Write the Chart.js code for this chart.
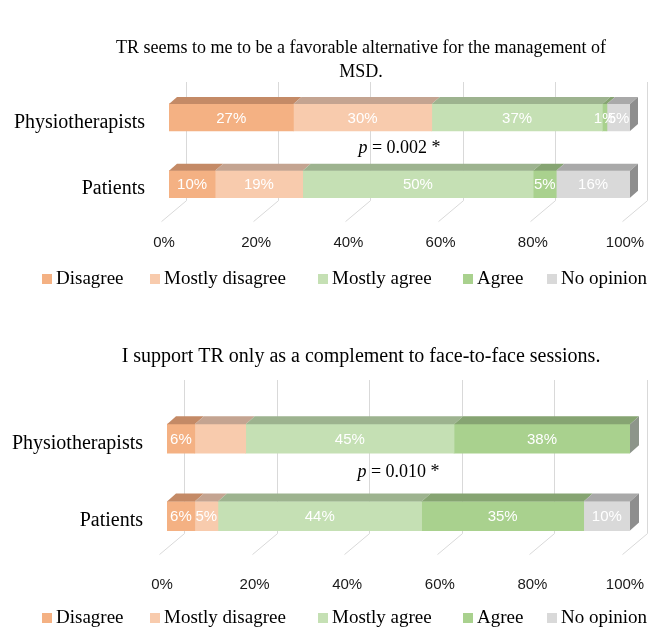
<!DOCTYPE html>
<html>
<head>
<meta charset="utf-8">
<script src="https://cdn.jsdelivr.net/npm/chart.js@4.4.0/dist/chart.umd.min.js"></script>
<style>
  html, body { margin: 0; padding: 0; background: #fff; overflow: hidden; }
  .box { position: absolute; left: 0; width: 652px; }
  #box1 { top: 0; height: 300px; }
  #box2 { top: 310px; height: 322px; }
</style>
</head>
<body>
<div class="box" id="box1"><canvas id="chart1"></canvas></div>
<div class="box" id="box2"><canvas id="chart2"></canvas></div>
<script>
const groups = ['Physiotherapists', 'Patients'];
const answers = ['Disagree', 'Mostly disagree', 'Mostly agree', 'Agree', 'No opinion'];
const answerColors = ['#F4B183', '#F8CBAD', '#C5E0B4', '#A9D18E', '#D9D9D9'];
const topColors = ['#C48a66', '#C4A491', '#9DB38F', '#86A472', '#A9A9A9'];
const sideColors = ['#B07756', '#AE9686', '#8E9C86', '#8D958A', '#8E8E8E'];
const xTicks = [0, 20, 40, 60, 80, 100];

// chart 1
const title1 = ['TR seems to me to be a favorable alternative for the management of', 'MSD.'];
const disagree1 = [27, 10];
const mostlyDisagree1 = [30, 19];
const mostlyAgree1 = [37, 50];
const agree1 = [1, 5];
const noOpinion1 = [5, 16];
const pValue1 = '0.002';

// chart 2
const title2 = ['I support TR only as a complement to face-to-face sessions.'];
const disagree2 = [6, 6];
const mostlyDisagree2 = [11, 5];
const mostlyAgree2 = [45, 44];
const agree2 = [38, 35];
const noOpinion2 = [0, 10];
const pValue2 = '0.010';
const hiddenLabels2 = ['Mostly disagree|Physiotherapists'];

const serif = "'Liberation Serif', serif";
const sans = "'Liberation Sans', sans-serif";

const bar3d = {
  id: 'bar3d',
  beforeDatasetsDraw(chart, args, o) {
    const { ctx, chartArea, scales: { x } } = chart;
    const meta = chart.getDatasetMeta(0);
    const lastBar = meta.data[meta.data.length - 1];
    const floorTop = lastBar.y + lastBar.height / 2 + 3;
    ctx.save();
    ctx.strokeStyle = '#D9D9D9';
    ctx.lineWidth = 1;
    xTicks.forEach(v => {
      const px = Math.round(x.getPixelForValue(v)) + 0.5;
      ctx.beginPath();
      ctx.moveTo(px + 17, chartArea.top + o.gridTop);
      ctx.lineTo(px + 17, floorTop);
      ctx.lineTo(px - 8, floorTop + 21);
      ctx.stroke();
    });
    ctx.restore();
  },
  afterDatasetsDraw(chart, args, o) {
    const { ctx, scales: { x, y } } = chart;
    const dx = o.dx, dy = o.dy;
    ctx.save();
    chart.data.labels.forEach((lab, j) => {
      let lastEl = null, lastDs = null;
      chart.data.datasets.forEach((ds, i) => {
        const el = chart.getDatasetMeta(i).data[j];
        if (!ds.data[j]) return;
        const top = el.y - el.height / 2;
        ctx.fillStyle = ds.topColor;
        ctx.beginPath();
        ctx.moveTo(el.base, top);
        ctx.lineTo(el.base + dx, top - dy);
        ctx.lineTo(el.x + dx, top - dy);
        ctx.lineTo(el.x, top);
        ctx.closePath();
        ctx.fill();
        lastEl = el; lastDs = ds;
      });
      if (lastEl) {
        const top = lastEl.y - lastEl.height / 2, bot = lastEl.y + lastEl.height / 2;
        ctx.fillStyle = lastDs.sideColor;
        ctx.beginPath();
        ctx.moveTo(lastEl.x, top);
        ctx.lineTo(lastEl.x + dx, top - dy);
        ctx.lineTo(lastEl.x + dx, bot - dy);
        ctx.lineTo(lastEl.x, bot);
        ctx.closePath();
        ctx.fill();
      }
    });

    // value labels
    ctx.fillStyle = '#fff';
    ctx.font = '15px ' + sans;
    ctx.textAlign = 'center';
    ctx.textBaseline = 'middle';
    chart.data.datasets.forEach((ds, i) => {
      chart.getDatasetMeta(i).data.forEach((el, j) => {
        const v = ds.data[j];
        if (!v) return;
        if ((o.hidden || []).includes(ds.label + '|' + chart.data.labels[j])) return;
        ctx.fillText(v + '%', (el.x + el.base) / 2, el.y + 1);
      });
    });

    // p value between the two bars
    const yMid = (y.getPixelForValue(0) + y.getPixelForValue(1)) / 2 + o.pOffset;
    const pText = ' = ' + o.p + ' *';
    ctx.fillStyle = '#000';
    ctx.font = 'italic 18px ' + serif;
    const w1 = ctx.measureText('p').width;
    ctx.font = '18px ' + serif;
    const w2 = ctx.measureText(pText).width;
    const x0 = x.getPixelForValue(50) - (w1 + w2) / 2;
    ctx.textAlign = 'left';
    ctx.font = 'italic 18px ' + serif;
    ctx.fillText('p', x0, yMid);
    ctx.font = '18px ' + serif;
    ctx.fillText(pText, x0 + w1, yMid);

    // title
    ctx.textAlign = 'center';
    ctx.font = o.titleSize + 'px ' + serif;
    o.title.forEach((line, k) => ctx.fillText(line, o.titleX, o.titleY + k * 24));

    // legend
    ctx.textAlign = 'left';
    ctx.font = '19px ' + serif;
    chart.data.datasets.forEach((ds, i) => {
      const lx = o.legendXs[i];
      ctx.fillStyle = ds.backgroundColor;
      ctx.fillRect(lx, o.legendY - 5, 10, 10);
      ctx.fillStyle = '#000';
      ctx.fillText(ds.label, lx + 14, o.legendY);
    });
    ctx.restore();
  }
};

function makeChart(id, title, series, s) {
  const datasets = series.map((values, i) => ({
    label: answers[i],
    data: values,
    backgroundColor: answerColors[i],
    topColor: topColors[i],
    sideColor: sideColors[i],
    borderWidth: 0,
    barThickness: s.barThickness
  }));
  return new Chart(document.getElementById(id), {
    type: 'bar',
    data: { labels: groups, datasets },
    plugins: [bar3d],
    options: {
      indexAxis: 'y',
      responsive: true,
      maintainAspectRatio: false,
      animation: false,
      layout: { padding: { left: 0, right: 22, top: s.topPad, bottom: s.bottomPad } },
      plugins: {
        legend: { display: false },
        tooltip: { enabled: false },
        title: { display: false },
        bar3d: {
          dx: s.dx, dy: s.dy, gridTop: s.gridTop, p: s.p, pOffset: s.pOffset,
          title: title, titleX: 361, titleY: s.titleY, titleSize: s.titleSize,
          legendXs: [42, 150, 318, 463, 547], legendY: s.legendY, hidden: s.hidden
        }
      },
      scales: {
        x: {
          stacked: true, min: 0, max: 100,
          grid: { display: false, drawTicks: false },
          border: { display: false },
          afterBuildTicks: sc => { sc.ticks = xTicks.map(v => ({ value: v })); },
          afterFit: sc => { sc.height = s.xHeight; sc.paddingLeft = 0; sc.paddingRight = 0; },
          ticks: {
            padding: s.tickPad, labelOffset: -5, color: '#1a1a1a',
            font: { family: sans, size: 15 },
            callback: v => v + '%'
          }
        },
        y: {
          stacked: true,
          grid: { display: false, drawTicks: false },
          border: { display: false },
          afterFit: sc => { sc.width = s.yWidth; },
          ticks: { padding: 24, labelOffset: 5, color: '#000', font: { family: serif, size: 20 } }
        }
      }
    }
  });
}

makeChart('chart1', title1, [disagree1, mostlyDisagree1, mostlyAgree1, agree1, noOpinion1], {
  barThickness: 27, dx: 8, dy: 7, gridTop: -2, p: pValue1, pOffset: -2,
  topPad: 84, bottomPad: 50, titleY: 48, titleSize: 18, xHeight: 32.5, tickPad: 16.5,
  yWidth: 169, legendY: 279
});
makeChart('chart2', title2, [disagree2, mostlyDisagree2, mostlyAgree2, agree2, noOpinion2], {
  barThickness: 29, dx: 9, dy: 8, gridTop: -20, p: pValue2, pOffset: -5,
  topPad: 90, bottomPad: 43, titleY: 47, titleSize: 20, xHeight: 34.25, tickPad: 21,
  yWidth: 167, legendY: 308, hidden: hiddenLabels2
});
</script>
</body>
</html>
